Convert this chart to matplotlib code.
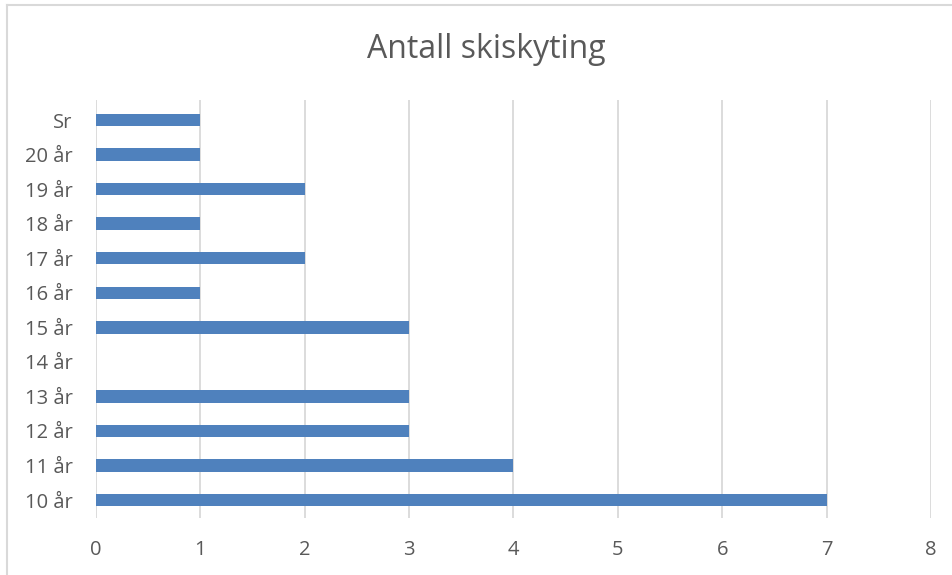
import matplotlib.pyplot as plt
from matplotlib.lines import Line2D

categories = ['10 år', '11 år', '12 år', '13 år', '14 år', '15 år',
              '16 år', '17 år', '18 år', '19 år', '20 år', 'Sr']
values = [7, 4, 3, 3, 0, 3, 1, 2, 1, 2, 1, 1]
x_ticks = [0, 1, 2, 3, 4, 5, 6, 7, 8]

bar_color = '#4F81BD'
text_color = '#595959'
grid_color = '#D9D9D9'

plt.rcParams['font.family'] = ['Open Sans', 'DejaVu Sans']

fig = plt.figure(figsize=(9.53, 5.75), dpi=100)
ax = fig.add_axes([96 / 953, 1 - 518 / 575, 835 / 953, 418 / 575])

# chart border (only top and left edges are visible in the crop)
bx, by = 6.5 / 953, 1 - 4.5 / 575
fig.lines.append(Line2D([bx, 1], [by, by], transform=fig.transFigure,
                        color='#D9D9D9', lw=1.5))
fig.lines.append(Line2D([bx, bx], [0, by], transform=fig.transFigure,
                        color='#D9D9D9', lw=1.5))

ypos = list(range(len(categories)))
ax.barh(ypos, values, height=0.36, color=bar_color, zorder=3)

ax.set_xlim(0, 8)
ax.set_ylim(-0.52, 11.58)
ax.set_xticks(x_ticks)
ax.set_yticks(ypos)
ax.set_yticklabels(categories)
ax.tick_params(axis='both', length=0, labelsize=14.5, colors=text_color)
ax.tick_params(axis='y', pad=17)
ax.tick_params(axis='x', pad=16)
ax.grid(axis='x', color=grid_color, lw=1.3, zorder=0)
for s in ax.spines.values():
    s.set_visible(False)

fig.text(486 / 953, 1 - 49 / 575, 'Antall skiskyting', ha='center', va='center',
         fontsize=23, color=text_color)

fig.savefig('out.png', dpi=100)
